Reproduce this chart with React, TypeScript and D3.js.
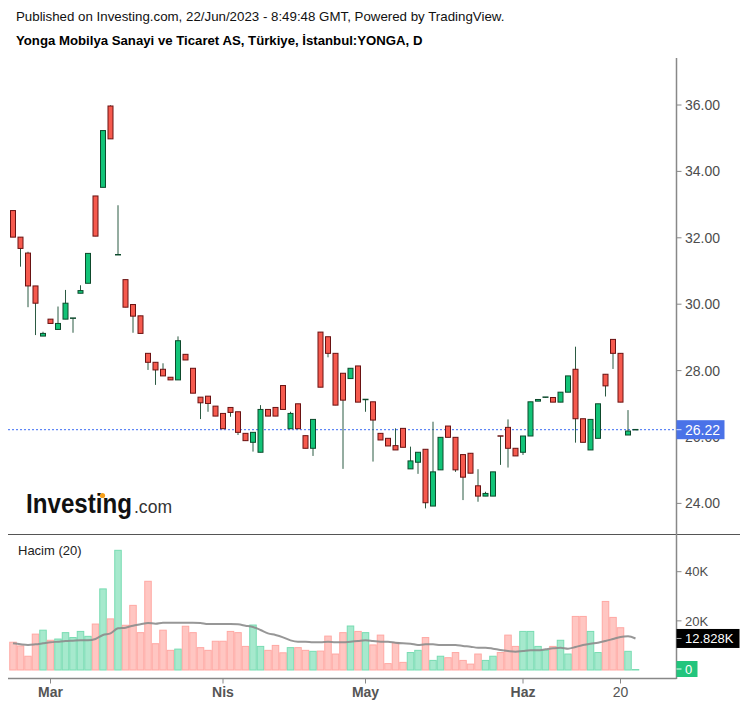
import React from 'react';
import * as d3 from 'd3';

const dates = [
  '2023-02-22','2023-02-23','2023-02-24','2023-02-27','2023-02-28',
  '2023-03-01','2023-03-02','2023-03-03','2023-03-06','2023-03-07','2023-03-08','2023-03-09','2023-03-10',
  '2023-03-13','2023-03-14','2023-03-15','2023-03-16','2023-03-17','2023-03-20','2023-03-21','2023-03-22',
  '2023-03-23','2023-03-24','2023-03-27','2023-03-28','2023-03-29','2023-03-30','2023-03-31',
  '2023-04-03','2023-04-04','2023-04-05','2023-04-06','2023-04-07','2023-04-10','2023-04-11','2023-04-12',
  '2023-04-13','2023-04-14','2023-04-17','2023-04-18','2023-04-19','2023-04-20','2023-04-24','2023-04-25',
  '2023-04-26','2023-04-27','2023-04-28',
  '2023-05-02','2023-05-03','2023-05-04','2023-05-05','2023-05-08','2023-05-09','2023-05-10','2023-05-11',
  '2023-05-12','2023-05-15','2023-05-16','2023-05-17','2023-05-18','2023-05-22','2023-05-23','2023-05-24',
  '2023-05-25','2023-05-26','2023-05-29','2023-05-30','2023-05-31',
  '2023-06-01','2023-06-02','2023-06-05','2023-06-06','2023-06-07','2023-06-08','2023-06-09','2023-06-12',
  '2023-06-13','2023-06-14','2023-06-15','2023-06-16','2023-06-19','2023-06-20','2023-06-21','2023-06-22',
];

const open = [
  32.82, 32.02, 31.54, 30.55, 29.04, 29.55, 29.24, 29.55, 29.58, 30.33,
  30.63, 33.26, 33.52, 35.97, 31.49, 30.74, 29.99, 29.65, 28.52, 28.25,
  28.04, 27.80, 27.72, 28.49, 28.07, 27.20, 27.23, 26.93, 26.71, 26.89,
  26.76, 26.11, 25.84, 25.54, 26.83, 26.89, 27.55, 26.25, 27.00, 26.04,
  25.66, 29.16, 29.02, 28.52, 27.92, 27.76, 28.14, 27.13, 27.06, 26.11,
  25.96, 25.74, 26.26, 25.04, 25.24, 25.63, 23.92, 25.01, 26.33, 25.99,
  25.47, 25.51, 24.53, 24.22, 24.22, 26.03, 26.29, 25.66, 25.54, 26.03,
  27.08, 27.18, 27.19, 27.05, 27.35, 28.04, 26.55, 25.61, 25.96, 27.89,
  28.94, 28.52, 26.06, 26.22,
];
const high = [
  32.82, 32.02, 31.58, 30.55, 29.17, 29.55, 29.93, 30.43, 29.58, 30.57,
  31.53, 33.26, 35.23, 35.99, 32.98, 30.74, 29.99, 29.65, 28.52, 28.25,
  28.22, 27.80, 29.03, 28.49, 28.07, 27.20, 27.23, 26.93, 26.71, 26.89,
  26.76, 26.11, 26.14, 26.96, 26.83, 26.89, 27.55, 26.76, 27.00, 26.04,
  26.53, 29.16, 29.02, 28.52, 27.92, 28.07, 28.14, 27.13, 27.06, 26.11,
  25.96, 26.26, 26.26, 25.71, 25.54, 25.63, 26.46, 25.99, 26.33, 25.99,
  25.47, 25.51, 25.03, 24.35, 24.95, 26.03, 26.53, 25.66, 26.03, 27.06,
  27.13, 27.20, 27.19, 27.35, 27.84, 28.72, 26.55, 26.53, 27.00, 27.89,
  28.94, 28.52, 26.81, 26.22,
];
const low = [
  32.02, 31.13, 29.91, 29.07, 29.04, 29.42, 29.24, 29.55, 29.14, 30.33,
  30.63, 32.05, 33.52, 34.98, 31.49, 29.91, 29.14, 29.12, 28.02, 27.57,
  27.84, 27.72, 27.72, 28.32, 27.32, 26.54, 26.76, 26.63, 26.25, 26.61,
  26.06, 25.89, 25.56, 25.54, 26.63, 26.63, 26.83, 26.25, 26.25, 25.66,
  25.43, 27.50, 28.40, 26.96, 25.04, 27.76, 27.05, 26.76, 25.26, 25.91,
  25.73, 25.61, 25.69, 25.04, 24.89, 23.85, 23.92, 25.01, 25.99, 24.95,
  24.10, 24.91, 24.05, 24.22, 24.22, 25.16, 25.08, 25.43, 25.46, 26.03,
  27.08, 27.18, 27.05, 27.05, 27.35, 25.83, 25.84, 25.61, 25.96, 27.22,
  28.05, 27.05, 26.06, 26.22,
];
const close = [
  32.02, 31.68, 30.55, 30.03, 29.12, 29.42, 29.42, 30.03, 29.58, 30.41,
  31.53, 32.05, 35.23, 34.98, 31.49, 29.91, 29.64, 29.12, 28.25, 28.02,
  27.84, 27.72, 28.90, 28.32, 27.32, 27.03, 27.01, 26.63, 26.25, 26.74,
  26.14, 25.89, 26.14, 26.83, 26.63, 26.63, 26.83, 26.71, 26.25, 25.66,
  26.53, 27.50, 28.52, 26.96, 27.11, 28.07, 27.05, 27.13, 26.51, 25.91,
  25.73, 25.61, 25.69, 25.28, 25.54, 24.02, 24.95, 25.99, 25.99, 25.01,
  24.79, 24.91, 24.22, 24.30, 24.95, 25.99, 25.66, 25.43, 26.03, 27.06,
  27.13, 27.20, 27.05, 27.35, 27.84, 26.55, 25.84, 26.53, 27.00, 27.54,
  28.52, 27.05, 26.18, 26.22,
];

// volume in thousands
const volumeK = [
  11.3, 9.8, 5.6, 14.6, 16.2, 12.1, 12.6, 15.2, 13.2, 15.7,
  13.7, 18.7, 33.0, 20.8, 48.7, 18.2, 26.3, 15.2, 36.1, 10.7,
  16.2, 8.0, 8.5, 17.8, 15.2, 9.1, 8.0, 11.7, 11.7, 15.7,
  15.2, 9.6, 18.3, 9.6, 8.0, 10.0, 7.0, 9.1, 9.1, 8.0,
  7.6, 7.7, 13.8, 6.5, 15.2, 17.9, 15.7, 15.2, 10.2, 14.2,
  2.6, 11.1, 3.1, 7.1, 8.0, 13.2, 3.9, 5.6, 5.0, 7.1,
  3.9, 2.4, 6.5, 3.9, 5.6, 7.1, 14.2, 9.6, 15.7, 15.7,
  9.6, 8.0, 9.6, 12.1, 6.5, 21.8, 21.8, 15.7, 7.1, 27.9,
  21.4, 17.2, 7.6, 0.2,
];
// 20-period volume average (thousands), as drawn
const volumeMA = [
  10.85, 10.44, 10.17, 10.44, 10.85, 11.26, 11.53, 11.80, 11.94, 12.07,
  12.07, 12.61, 14.24, 14.92, 16.95, 17.23, 18.04, 18.58, 19.13, 18.85,
  19.26, 19.26, 19.26, 19.26, 19.26, 19.13, 18.72, 18.72, 18.72, 18.72,
  18.58, 18.04, 17.50, 16.28, 14.92, 14.24, 13.29, 12.07, 11.53, 11.53,
  11.26, 11.26, 11.53, 11.26, 11.26, 11.53, 11.80, 12.07, 11.80, 11.53,
  11.53, 11.12, 10.85, 10.72, 10.17, 10.44, 10.44, 10.17, 10.17, 10.17,
  9.77, 9.49, 9.09, 9.09, 8.68, 8.14, 7.73, 7.46, 7.73, 8.00,
  8.00, 8.41, 8.82, 9.09, 8.68, 9.36, 10.17, 10.72, 11.12, 11.80,
  12.61, 13.43, 13.70, 12.83,
];

const priceTicks = [24, 26, 28, 30, 32, 34, 36];
const volumeTicks = [20, 40];
const xTickDates = ['2023-03-01', '2023-04-03', '2023-05-02', '2023-06-01', '2023-06-20'];
const xTickLabels = ['Mar', 'Nis', 'May', 'Haz', '20'];
const xTickBold = [true, true, true, true, false];

const lastPrice = 26.22;
const lastPriceLabel = '26.22';
const lastMALabel = '12.828K';
const titleLine1 = 'Published on Investing.com, 22/Jun/2023 - 8:49:48 GMT, Powered by TradingView.';
const titleLine2 = 'Yonga Mobilya Sanayi ve Ticaret AS, Türkiye, İstanbul:YONGA, D';

const W = 747;
const H = 707;
const AXIS_X = 676.5;
const FONT = 'Arial, "Liberation Sans", sans-serif';

export default function App() {
  const x = d3.scaleBand<string>().domain(dates).range([9.25, 639.25]).paddingInner(0);
  const bw = x.bandwidth();
  const cx = (d: string) => (x(d) as number) + bw / 2;
  const y = d3.scaleLinear().domain([24, 36]).range([503.4, 105]);
  const yv = d3.scaleLinear().domain([0, 40]).range([670, 571.7]);

  const maLine = d3
    .line<number>()
    .x((_, i) => cx(dates[i]))
    .y((v) => yv(v))
    .curve(d3.curveMonotoneX);

  const upFill = '#12c377';
  const upStroke = '#0d4a2c';
  const dnFill = '#f65a4e';
  const dnStroke = '#6a1212';
  const wick = '#2b5a42';
  const volUp = '#a6e9cd';
  const volUpStroke = '#78dcb2';
  const volDn = '#ffc6c2';
  const volDnStroke = '#ffa8a3';

  const bodyW = 5;
  const maLast = volumeMA[volumeMA.length - 1];

  return (
    <svg
      width={W}
      height={H}
      style={{ position: 'absolute', left: 0, top: 0, background: '#fff' }}
      fontFamily={FONT}
    >
      <rect x={0} y={0} width={W} height={H} fill="#fff" />
      <text x={16} y={21} fontSize={13.3} fill="#111">{titleLine1}</text>
      <text x={16} y={45} fontSize={13.2} fontWeight="bold" fill="#000">{titleLine2}</text>

      {/* watermark logo */}
      <g>
        <text x={26} y={513} fontSize={27} fontWeight="bold" fill="#111" textLength={106} lengthAdjust="spacingAndGlyphs">
          Investing
        </text>
        <circle cx={102.5} cy={495.5} r={2.6} fill="#f6a01a" />
        <text x={134} y={513} fontSize={18} fill="#333" textLength={38} lengthAdjust="spacingAndGlyphs">.com</text>
      </g>

      {/* panes lines */}
      <line x1={8} x2={740} y1={534.5} y2={534.5} stroke="#555" strokeWidth={1} />
      <line x1={8} x2={AXIS_X} y1={678.5} y2={678.5} stroke="#888" strokeWidth={1.5} />
      <line x1={AXIS_X} x2={AXIS_X} y1={58} y2={679} stroke="#888" strokeWidth={1.5} />

      {/* price axis */}
      {priceTicks.map((t) => (
        <g key={t}>
          <line x1={AXIS_X} x2={AXIS_X + 5} y1={y(t)} y2={y(t)} stroke="#888" />
          <text x={685} y={y(t)} dy="0.36em" fontSize={14} fill="#4d4d4d">{t.toFixed(2)}</text>
        </g>
      ))}

      {/* volume bars */}
      {dates.map((d, i) => {
        const up = close[i] >= open[i];
        const top = yv(volumeK[i]);
        return (
          <rect
            key={'v' + d}
            x={(x(d) as number) + 0.5}
            y={top}
            width={bw - 1}
            height={Math.max(0.5, yv(0) - top)}
            fill={up ? volUp : volDn}
            stroke={up ? volUpStroke : volDnStroke}
            strokeWidth={1}
          />
        );
      })}
      <path d={maLine(volumeMA) || ''} fill="none" stroke="#8c8c8c" strokeWidth={2} opacity={0.9} />

      {/* last price line */}
      <line x1={8} x2={AXIS_X} y1={y(lastPrice)} y2={y(lastPrice)} stroke="#3a6cf4" strokeWidth={1} strokeDasharray="2,2" />

      {/* candles */}
      {dates.map((d, i) => {
        const up = close[i] >= open[i];
        const c = cx(d);
        const yTop = y(Math.max(open[i], close[i]));
        const yBot = y(Math.min(open[i], close[i]));
        const h = Math.max(1, yBot - yTop);
        return (
          <g key={'c' + d}>
            <line x1={c} x2={c} y1={y(high[i])} y2={y(low[i])} stroke={wick} strokeWidth={1} />
            {h > 1.5 ? (
              <rect
                x={c - bodyW / 2}
                y={yTop}
                width={bodyW}
                height={h}
                fill={up ? upFill : dnFill}
                stroke={up ? upStroke : dnStroke}
                strokeWidth={1}
              />
            ) : (
              <line
                x1={c - bodyW / 2 - 0.5}
                x2={c + bodyW / 2 + 0.5}
                y1={yTop}
                y2={yTop}
                stroke={up ? upStroke : dnStroke}
                strokeWidth={1.5}
              />
            )}
          </g>
        );
      })}

      {/* last price label */}
      <rect x={AXIS_X} y={y(lastPrice) - 9.5} width={48} height={19} fill="#4a72e8" />
      <line x1={AXIS_X} x2={AXIS_X + 5} y1={y(lastPrice)} y2={y(lastPrice)} stroke="#dde6ff" />
      <text x={685} y={y(lastPrice)} dy="0.36em" fontSize={14} fill="#fff">{lastPriceLabel}</text>

      {/* volume axis */}
      <text x={18} y={555} fontSize={13} fill="#222">Hacim (20)</text>
      {volumeTicks.map((t) => (
        <g key={'vt' + t}>
          <line x1={AXIS_X} x2={AXIS_X + 5} y1={yv(t)} y2={yv(t)} stroke="#888" />
          <text x={685} y={yv(t)} dy="0.36em" fontSize={13} fill="#4d4d4d">{t}K</text>
        </g>
      ))}
      <rect x={AXIS_X} y={yv(maLast) - 9.5} width={63} height={19} fill="#000" />
      <line x1={AXIS_X} x2={AXIS_X + 5} y1={yv(maLast)} y2={yv(maLast)} stroke="#aaa" />
      <text x={685} y={yv(maLast)} dy="0.36em" fontSize={13} fill="#fff">{lastMALabel}</text>
      <rect x={AXIS_X} y={yv(0) - 9} width={21} height={16} fill="#22c57d" />
      <line x1={AXIS_X} x2={AXIS_X + 5} y1={yv(0) - 1} y2={yv(0) - 1} stroke="#e8fff3" />
      <text x={685} y={yv(0) - 1} dy="0.36em" fontSize={13} fill="#fff">0</text>

      {/* x axis */}
      {xTickDates.map((d, i) => (
        <g key={'xt' + d}>
          <line x1={cx(d)} x2={cx(d)} y1={678.5} y2={683.5} stroke="#888" />
          <text
            x={cx(d)}
            y={697}
            textAnchor="middle"
            fontSize={14}
            fontWeight={xTickBold[i] ? 'bold' : 'normal'}
            fill="#555"
          >
            {xTickLabels[i]}
          </text>
        </g>
      ))}
    </svg>
  );
}
